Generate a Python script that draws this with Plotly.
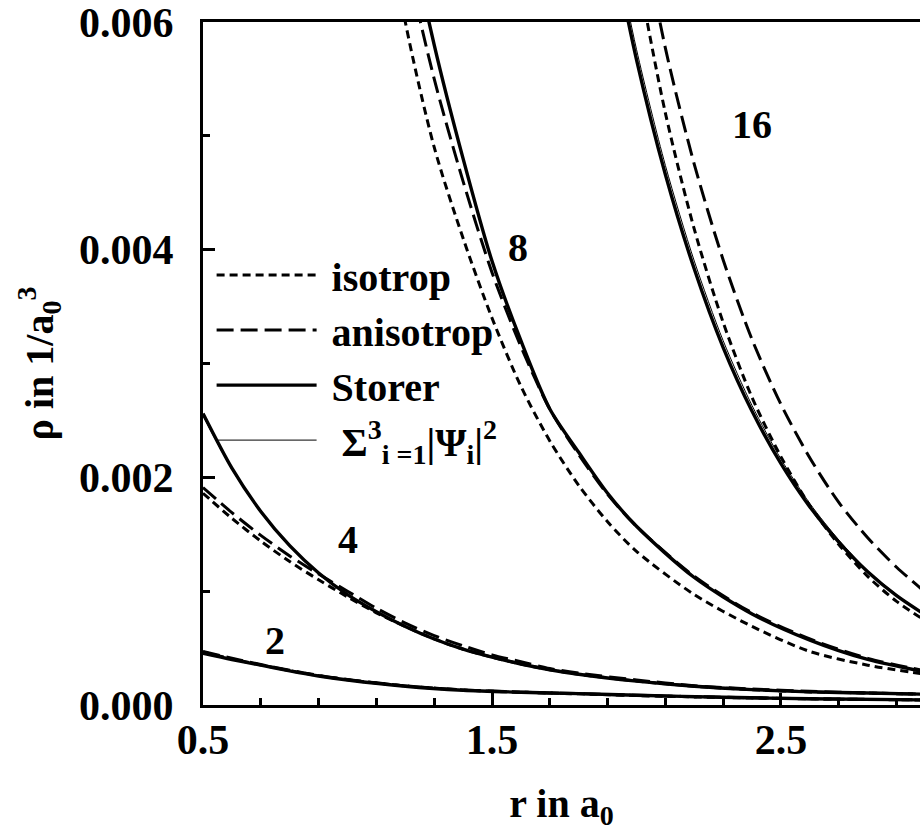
import plotly.graph_objects as go

# ---------------- data ----------------
x2 = [0.5, 0.6, 0.7, 0.8, 0.9, 1.0, 1.2, 1.4, 1.6, 1.8, 2.0, 2.3, 2.6, 3.0]
storer2 = [0.000455, 0.000400, 0.000350, 0.000300, 0.000255, 0.000220, 0.000165, 0.000130, 0.000112, 0.000100, 0.000085, 0.000068, 0.000055, 0.000045]
thin2 = [0.000455, 0.000400, 0.000350, 0.000300, 0.000255, 0.000220, 0.000165, 0.000130, 0.000112, 0.000100, 0.000085, 0.000068, 0.000055, 0.000045]
iso2 = [0.000465, 0.000405, 0.000352, 0.000302, 0.000258, 0.000222, 0.000168, 0.000132, 0.000112, 0.000098, 0.000083, 0.000066, 0.000054, 0.000044]
aniso2 = [0.000470, 0.000410, 0.000356, 0.000306, 0.000260, 0.000224, 0.000168, 0.000133, 0.000113, 0.000100, 0.000085, 0.000068, 0.000055, 0.000045]

x4 = [0.5, 0.6, 0.7, 0.8, 0.9, 1.0, 1.1, 1.2, 1.3, 1.4, 1.5, 1.6, 1.7, 1.8, 2.0, 2.2, 2.4, 2.6, 2.8, 3.0]
storer4 = [0.00256, 0.00208, 0.00170, 0.00140, 0.00116, 0.00097, 0.00082, 0.00069, 0.00058, 0.00049, 0.00042, 0.00036, 0.00031, 0.00027, 0.00021, 0.000165, 0.000135, 0.000115, 0.000105, 0.000095]
thin4 = [0.00254, 0.00207, 0.00169, 0.00139, 0.00116, 0.00097, 0.00082, 0.00069, 0.00058, 0.00049, 0.00042, 0.00036, 0.00031, 0.00027, 0.00021, 0.000165, 0.000135, 0.000115, 0.000105, 0.000095]
iso4 = [0.00186, 0.00164, 0.00144, 0.00126, 0.00110, 0.00095, 0.00081, 0.00069, 0.00058, 0.00049, 0.00042, 0.00036, 0.00031, 0.00027, 0.00021, 0.000165, 0.000135, 0.000115, 0.000105, 0.000095]
aniso4 = [0.00191, 0.00169, 0.00149, 0.00131, 0.00115, 0.00100, 0.00085, 0.00072, 0.00061, 0.00052, 0.00044, 0.00038, 0.00032, 0.00028, 0.00022, 0.00017, 0.00014, 0.00012, 0.000105, 0.000095]

x8 = [1.1, 1.2, 1.3, 1.4, 1.5, 1.6, 1.7, 1.8, 1.9, 2.0, 2.2, 2.4, 2.6, 2.8, 3.0]
storer8 = [0.0086, 0.0070, 0.0058, 0.0048, 0.0039, 0.0032, 0.0026, 0.00222, 0.00186, 0.00157, 0.00112, 0.00080, 0.00057, 0.00040, 0.00029]
thin8 = [0.0087, 0.0071, 0.0058, 0.0048, 0.0039, 0.0032, 0.0026, 0.00222, 0.00186, 0.00157, 0.00112, 0.00080, 0.00057, 0.00040, 0.00029]
iso8 = [0.0075, 0.0060, 0.0049, 0.0041, 0.0034, 0.0028, 0.00232, 0.00193, 0.00161, 0.00135, 0.00097, 0.00069, 0.00047, 0.00035, 0.00027]
aniso8 = [0.0080, 0.0066, 0.0055, 0.0046, 0.0038, 0.00315, 0.0026, 0.00220, 0.00185, 0.00157, 0.00113, 0.00081, 0.00058, 0.00041, 0.00030]

x16 = [1.9, 2.0, 2.1, 2.2, 2.3, 2.4, 2.5, 2.6, 2.7, 2.8, 2.9, 3.0]
storer16 = [0.0069, 0.00567, 0.00466, 0.00383, 0.00314, 0.00258, 0.00212, 0.00174, 0.00143, 0.00117, 0.00096, 0.00079]
thin16 = [0.0070, 0.00576, 0.00474, 0.00390, 0.00320, 0.00263, 0.00216, 0.00177, 0.00145, 0.00118, 0.00097, 0.00079]
iso16 = [0.0079, 0.0065, 0.0052, 0.00418, 0.00336, 0.00270, 0.00218, 0.00175, 0.00141, 0.00113, 0.00091, 0.00074]
aniso16 = [0.0087, 0.0071, 0.00577, 0.00475, 0.00391, 0.00321, 0.00264, 0.00217, 0.00178, 0.00147, 0.00121, 0.00099]

curve_labels = ["2", "4", "8", "16"]
label_x = [0.75, 1.0, 1.59, 2.40]
label_y = [0.00057, 0.00145, 0.00402, 0.00510]

NB = "\u00a0"
legend_names = [NB + "isotrop", NB + "anisotrop", NB + "Storer",
                NB + NB + "Σ<sup>3</sup><sub>i =1</sub>|Ψ<sub>i</sub>|<sup>2</sup>"]

x_ticks = [0.5, 1.5, 2.5]
x_ticktext = ["0.5", "1.5", "2.5"]
y_ticks = [0.0, 0.002, 0.004, 0.0059999]
y_ticktext = ["0.000", "0.002", "0.004", "0.006"]

# ---------------- figure ----------------
FONT = "Liberation Serif"
fig = go.Figure()

styles = {
    "iso": dict(color="black", width=3.0, dash="8px,5px"),
    "aniso": dict(color="black", width=3.0, dash="17px,7px"),
    "storer": dict(color="black", width=3.4),
    "thin": dict(color="black", width=1.0),
}
families = [
    (x2, iso2, aniso2, storer2, thin2),
    (x4, iso4, aniso4, storer4, thin4),
    (x8, iso8, aniso8, storer8, thin8),
    (x16, iso16, aniso16, storer16, thin16),
]
keys = ["iso", "aniso", "storer", "thin"]
for fi, fam in enumerate(families):
    xs = fam[0]
    for ki in [3, 0, 1, 2]:
        k = keys[ki]
        ys = fam[ki + 1]
        fig.add_trace(go.Scatter(
            x=xs, y=ys, mode="lines", line=dict(**styles[k], shape="spline", smoothing=0.8),
            name=legend_names[ki], legendgroup=k, legendrank=ki + 1,
            showlegend=(fi == 0), hoverinfo="skip"))

for t, lx, ly in zip(curve_labels, label_x, label_y):
    fig.add_annotation(x=lx, y=ly, text=t, showarrow=False,
                       font=dict(family=FONT, size=40, color="black", weight="bold"))

axis_common = dict(
    showline=True, linecolor="black", linewidth=3, ticks="inside", tickwidth=3,
    ticklen=12, tickcolor="black", showgrid=False, zeroline=False,
    ticklabeloverflow="allow",
    tickfont=dict(family=FONT, size=42, color="black", weight="bold"),
)

fig.update_xaxes(
    **axis_common, range=[0.5, 2.981], tickvals=x_ticks, ticktext=x_ticktext,
    mirror=True, ticklabelstandoff=-4,
    minor=dict(dtick=0.2, tick0=0.5, ticks="inside", ticklen=7, tickwidth=3, tickcolor="black"),
    title=dict(text="r in a<sub>0</sub>", standoff=34,
               font=dict(family=FONT, size=40, color="black", weight="bold")),
)
fig.update_yaxes(
    **axis_common, range=[0, 0.006], tickvals=y_ticks, ticktext=y_ticktext,
    ticklabelstandoff=18,
    minor=dict(dtick=0.001, tick0=0, ticks="inside", ticklen=7, tickwidth=3, tickcolor="black"),
    title=dict(text="ρ in 1/a<sub>0</sub><sup>3</sup>", standoff=14,
               font=dict(family=FONT, size=40, color="black", weight="bold")),
)

fig.update_layout(
    width=920, height=831,
    margin=dict(l=203, r=0, t=20, b=126),
    plot_bgcolor="white", paper_bgcolor="white",
    showlegend=True,
    legend=dict(x=0.012, y=0.677, xanchor="left", yanchor="top",
                bgcolor="rgba(0,0,0,0)", itemwidth=100, tracegroupgap=0,
                font=dict(family=FONT, size=40, color="black", weight="bold")),
)

fig.write_html("out.html")
